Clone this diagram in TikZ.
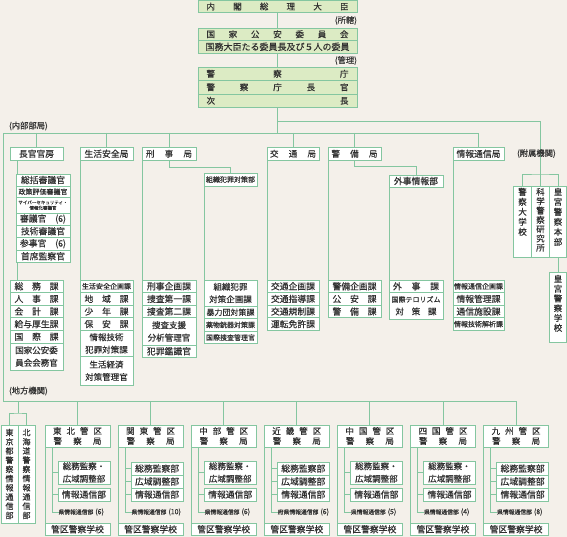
\documentclass[tikz,border=0pt]{standalone}
\usepackage{fontspec}
\setmainfont{Noto Sans CJK JP}[FakeBold=0.35]
\definecolor{bgc}{HTML}{F4F0EA}
\definecolor{gline}{HTML}{84C6A0}
\definecolor{topfill}{HTML}{DCEBC4}
\definecolor{txt}{HTML}{303030}
\pgfdeclarelayer{back}
\pgfdeclarelayer{lines}
\pgfsetlayers{back,lines,main}
\newcommand{\spr}[2]{\makebox[#1pt]{#2}}
\newcommand{\bx}[7]{%
  \pgfmathsetmacro\bxcx{((#3)+(#5))/2}%
  \pgfmathsetmacro\bxcy{((#4)+(#6))/2}%
  \pgfmathsetmacro\bxw{(#5)-(#3)}%
  \pgfmathsetmacro\bxh{(#6)-(#4)}%
  \node[box,#1,minimum width=\bxw pt,minimum height=\bxh pt] (#2) at (\bxcx,\bxcy) {#7};%
}
\newcommand{\pref}[2]{{\fontsize{5.8}{6}\selectfont #1}\hspace{2pt}{\fontsize{7}{7}\selectfont (#2)}}
\newcommand{\regbase}[4]{%
  \bx{fH}{#1h}{#2}{425}{#2+65}{447}{\spr{49}{#3}\\\spr{48}{警\hfill 察\hfill 局}}
  \bx{fA}{#1s}{#2}{523}{#2+65}{535.5}{管区警察学校}
  \node[lbl,anchor=west] (#1p) at (#2+13.5,512) {#4};
  \coordinate (#1v) at (#2+7,447);
  \begin{pgfonlayer}{lines}
  \draw[conn] (#1h.north |- lo) -- (#1h.north);
  \draw[conn] (#1h.south west) -- (#1s.north west);
  \draw[conn] (#1v) |- (#1p.west);
  \end{pgfonlayer}
}
\newcommand{\regA}[2]{%
  \bx{fB}{#1a}{#2+13}{461}{#2+65}{484}{総務監察・\\広域調整部}
  \bx{fA}{#1b}{#2+13}{488}{#2+65}{501}{情報通信部}
  \begin{pgfonlayer}{lines}
  \draw[conn] (#1a.west -| #1v) -- (#1a.west);
  \draw[conn] (#1b.west -| #1v) -- (#1b.west);
  \end{pgfonlayer}
}
\newcommand{\regB}[2]{%
  \bx{fA}{#1a}{#2+13}{462}{#2+65}{475}{総務監察部}
  \bx{fA}{#1b}{#2+13}{475}{#2+65}{488}{広域調整部}
  \bx{fA}{#1c}{#2+13}{488}{#2+65}{501}{情報通信部}
  \begin{pgfonlayer}{lines}
  \draw[conn] (#1a.west -| #1v) -- (#1a.west);
  \draw[conn] (#1b.west -| #1v) -- (#1b.west);
  \draw[conn] (#1c.west -| #1v) -- (#1c.west);
  \end{pgfonlayer}
}
\begin{document}
\begin{tikzpicture}[x=1pt,y=-1pt,
 box/.style={draw=gline,fill=white,line width=0.8pt,inner sep=0pt,outer sep=0pt,align=center,text=txt},
 topbox/.style={fill=topfill},
 conn/.style={draw=gline,line width=0.85pt},
 lbl/.style={inner sep=0pt,outer sep=0pt,text=txt,font=\fontsize{8.3}{9}\selectfont},
 fA/.style={font=\fontsize{8.8}{10}\selectfont},
 fH/.style={font=\fontsize{8.5}{10}\selectfont},
 fB/.style={font=\fontsize{8.5}{12.5}\selectfont},
 fS/.style={font=\fontsize{7}{8}\selectfont},
 fT/.style={font=\fontsize{4.5}{5.4}\selectfont},
 fV/.style={font=\fontsize{8.5}{10}\selectfont},
]
\begin{pgfonlayer}{back}
\fill[bgc] (0,0) rectangle (567,537);
\end{pgfonlayer}
\useasboundingbox (0,0) rectangle (567,537);
\coordinate (hub) at (277.5,133);
\coordinate (fz) at (277.5,121);
\coordinate (fzc) at (540.5,174);
\coordinate (iL) at (3,133);
\coordinate (lo) at (3,401);
\coordinate (tk) at (18,413);

% top
\bx{topbox,fH}{pm}{198}{0.5}{357}{12.5}{\spr{142}{内\hfill 閣\hfill 総\hfill 理\hfill 大\hfill 臣}}
\node[lbl,anchor=east] (shokatsu) at (357,20.5) {(所轄)};
\bx{topbox,fH}{kokka}{198}{28}{357}{40.5}{\spr{142}{国\hfill 家\hfill 公\hfill 安\hfill 委\hfill 員\hfill 会}}
\bx{topbox,font=\fontsize{9}{10}\selectfont}{kokka2}{198}{40.5}{357}{53}{国務大臣たる委員長及び５人の委員}
\node[lbl,anchor=east] (kanri) at (357,60.5) {(管理)};
\bx{topbox,fH}{npa}{198}{67}{357}{80.5}{\spr{142}{警\hfill 察\hfill 庁}}
\bx{topbox,fH}{chokan}{198}{80.5}{357}{94}{\spr{142}{警\hfill 察\hfill 庁\hfill 長\hfill 官}}
\bx{topbox,fH}{jicho}{198}{94}{357}{107.5}{\spr{142}{次\hfill 長}}

% labels
\node[lbl,anchor=west] (naibu) at (9,126) {(内部部局)};
\node[lbl,anchor=west] (fuzoku) at (517,153.5) {(附属機関)};
\node[lbl,anchor=west] (chiho) at (9,391) {(地方機関)};

% headers
\bx{fA}{chokanbo}{10}{147.5}{63}{160}{長官官房}
\bx{fA}{seikatsu}{80}{147.5}{133}{160}{生活安全局}
\bx{fH}{keiji}{142}{147.5}{196}{160}{\spr{46}{刑\hfill 事\hfill 局}}
\bx{fS}{sotai}{204}{173}{257}{186}{組織犯罪対策部}
\bx{fH}{kotsu}{267}{147.5}{319}{160}{\spr{46}{交\hfill 通\hfill 局}}
\bx{fH}{keibi}{328}{147.5}{381}{160}{\spr{46}{警\hfill 備\hfill 局}}
\bx{fA}{gaiji}{389}{175}{443}{187}{外事情報部}
\bx{fA}{joho}{453}{147.5}{504}{160}{情報通信局}

% chokan kanbo upper
\bx{fA}{c1}{16}{174}{70}{186}{総括審議官}
\bx{fS}{c2}{16}{186}{70}{197.5}{政策評価審議官}
\bx{fT}{c3}{16}{197.5}{70}{213}{サイバーセキュリティ・\\情報化審議官}
\bx{fA}{c4}{16}{213}{70}{225}{\spr{46}{審議官\hfill (6)}}
\bx{fA}{c5}{16}{225}{70}{237.5}{技術審議官}
\bx{fA}{c6}{16}{237.5}{70}{250}{\spr{46}{参事官\hfill (6)}}
\bx{fA}{c7}{16}{250}{70}{262.5}{首席監察官}
% chokan kanbo lower
\bx{fA}{d1}{10}{280}{63}{292.6}{\spr{44}{総\hfill 務\hfill 課}}
\bx{fA}{d2}{10}{292.6}{63}{305.2}{\spr{44}{人\hfill 事\hfill 課}}
\bx{fA}{d3}{10}{305.2}{63}{317.8}{\spr{44}{会\hfill 計\hfill 課}}
\bx{fA}{d4}{10}{317.8}{63}{330.4}{給与厚生課}
\bx{fA}{d5}{10}{330.4}{63}{343}{\spr{44}{国\hfill 際\hfill 課}}
\bx{fB}{d6}{10}{343}{63}{370}{国家公安委\\員会会務官}
% seikatsu anzen
\bx{fS}{s1}{80}{280}{133}{292.6}{生活安全企画課}
\bx{fA}{s2}{80}{292.6}{133}{305.2}{\spr{44}{地\hfill 域\hfill 課}}
\bx{fA}{s3}{80}{305.2}{133}{317.8}{\spr{44}{少\hfill 年\hfill 課}}
\bx{fA}{s4}{80}{317.8}{133}{330.4}{\spr{44}{保\hfill 安\hfill 課}}
\bx{fB}{s5}{80}{330.4}{133}{356.5}{情報技術\\犯罪対策課}
\bx{fB}{s6}{80}{356.5}{133}{385}{生活経済\\対策管理官}
% keiji
\bx{fA}{k1}{142}{280}{196}{292.6}{刑事企画課}
\bx{fA}{k2}{142}{292.6}{196}{305.2}{捜査第一課}
\bx{fA}{k3}{142}{305.2}{196}{317.8}{捜査第二課}
\bx{fB}{k4}{142}{317.8}{196}{345}{捜査支援\\分析管理官}
\bx{fA}{k5}{142}{345}{196}{357.6}{犯罪鑑識官}
% sotai
\bx{fB}{o1}{204}{280}{257}{306}{組織犯罪\\対策企画課}
\bx{font=\fontsize{8}{9}\selectfont}{o2}{204}{306}{257}{318.6}{暴力団対策課}
\bx{fS}{o3}{204}{318.6}{257}{331.2}{薬物銃器対策課}
\bx{fS}{o4}{204}{331.2}{257}{343.8}{国際捜査管理官}
% kotsu
\bx{fA}{t1}{267}{280}{319}{292.6}{交通企画課}
\bx{fA}{t2}{267}{292.6}{319}{305.2}{交通指導課}
\bx{fA}{t3}{267}{305.2}{319}{317.8}{交通規制課}
\bx{fA}{t4}{267}{317.8}{319}{330.4}{運転免許課}
% keibi
\bx{fA}{b1}{328}{280}{381}{292.6}{警備企画課}
\bx{fA}{b2}{328}{292.6}{381}{305.2}{\spr{44}{公\hfill 安\hfill 課}}
\bx{fA}{b3}{328}{305.2}{381}{317.8}{\spr{44}{警\hfill 備\hfill 課}}
% gaiji
\bx{fA}{g1}{389}{280}{443}{292.6}{\spr{46}{外\hfill 事\hfill 課}}
\bx{fB}{g2}{389}{292.6}{443}{319}{{\fontsize{7}{12.5}\selectfont 国際テロリズム}\\\spr{41}{対\hfill 策\hfill 課}}
% joho tsushin
\bx{fS}{i1}{453}{280}{504}{292.6}{情報通信企画課}
\bx{fA}{i2}{453}{292.6}{504}{305.2}{情報管理課}
\bx{fA}{i3}{453}{305.2}{504}{317.8}{通信施設課}
\bx{fS}{i4}{453}{317.8}{504}{330.4}{情報技術解析課}

% fuzoku kikan
\bx{fV}{daigaku}{513.5}{186}{531.5}{257}{警\\察\\大\\学\\校\rule[-20pt]{0pt}{1pt}}
\bx{font=\fontsize{8.5}{9.3}\selectfont}{kaken}{531.5}{186}{549.5}{257}{科\\学\\警\\察\\研\\究\\所\rule[-4pt]{0pt}{1pt}}
\bx{fV}{kogu}{549.5}{186}{566.5}{257}{皇\\宮\\警\\察\\本\\部\rule[-10pt]{0pt}{1pt}}
\bx{font=\fontsize{8.5}{9.8}\selectfont}{kogugk}{549.5}{272}{566.5}{342}{皇\\宮\\警\\察\\学\\校\rule[-8pt]{0pt}{1pt}}

% local
\bx{font=\fontsize{8}{9.2}\selectfont}{tokyo}{1}{425}{18}{523}{東\\京\\都\\警\\察\\情\\報\\通\\信\\部}
\bx{font=\fontsize{8}{9.2}\selectfont}{hokkaido}{18}{425}{35}{523}{北\\海\\道\\警\\察\\情\\報\\通\\信\\部}

\regbase{th}{45}{東\hfill 北\hfill 管\hfill 区}{\pref{県情報通信部}{6}}\regA{th}{45}
\regbase{kt}{118.1}{関\hfill 東\hfill 管\hfill 区}{\pref{県情報通信部}{10}}\regB{kt}{118.1}
\regbase{cb}{191.2}{中\hfill 部\hfill 管\hfill 区}{\pref{県情報通信部}{6}}\regA{cb}{191.2}
\regbase{kk}{264.3}{近\hfill 畿\hfill 管\hfill 区}{\pref{府県情報通信部}{6}}\regB{kk}{264.3}
\regbase{cg}{337.4}{中\hfill 国\hfill 管\hfill 区}{\pref{県情報通信部}{5}}\regA{cg}{337.4}
\regbase{sk}{410.5}{四\hfill 国\hfill 管\hfill 区}{\pref{県情報通信部}{4}}\regA{sk}{410.5}
\regbase{ky}{483.6}{九\hfill 州\hfill 管\hfill 区}{\pref{県情報通信部}{8}}\regB{ky}{483.6}

\coordinate (cbl) at ([xshift=7pt]chokanbo.south west);
\begin{pgfonlayer}{lines}
\draw[conn] (pm.south) -- (kokka.north);
\draw[conn] (kokka2.south) -- (npa.north);
\draw[conn] (jicho.south) -- (hub);
\draw[conn] (fz) -| (fzc) -- (kaken.north);
\draw[conn] (daigaku.north) |- (fzc) -| (kogu.north);
\draw[conn] (kogu.south) -- (kogugk.north);
\draw[conn] (joho.north) |- (iL) -- (lo) -- (kyh.north |- lo);
\draw[conn] (chokanbo.north |- iL) -- (chokanbo.north);
\draw[conn] (seikatsu.north |- iL) -- (seikatsu.north);
\draw[conn] (keiji.north |- iL) -- (keiji.north);
\draw[conn] (kotsu.north |- iL) -- (kotsu.north);
\draw[conn] (keibi.north |- iL) -- (keibi.north);
\draw[conn] (cbl) -- (cbl |- d1.north);
\draw[conn] (seikatsu.south west) -- (seikatsu.south west |- s1.north);
\draw[conn] (keiji.south west) -- (keiji.south west |- k1.north);
\draw[conn] (keiji.south) -- ++(0,7) -| (sotai.north);
\draw[conn] (sotai.south west) -- (sotai.south west |- o1.north);
\draw[conn] (kotsu.south west) -- (kotsu.south west |- t1.north);
\draw[conn] (keibi.south west) -- (keibi.south west |- b1.north);
\draw[conn] (keibi.south) -- ++(0,6) -| (gaiji.north);
\draw[conn] (gaiji.south west) -- (gaiji.south west |- g1.north);
\draw[conn] (joho.south west) -- (joho.south west |- i1.north);
\draw[conn] (tk |- lo) -- (tk);
\draw[conn] (tokyo.north) |- (tk) -| (hokkaido.north);
\end{pgfonlayer}
\end{tikzpicture}
\end{document}
